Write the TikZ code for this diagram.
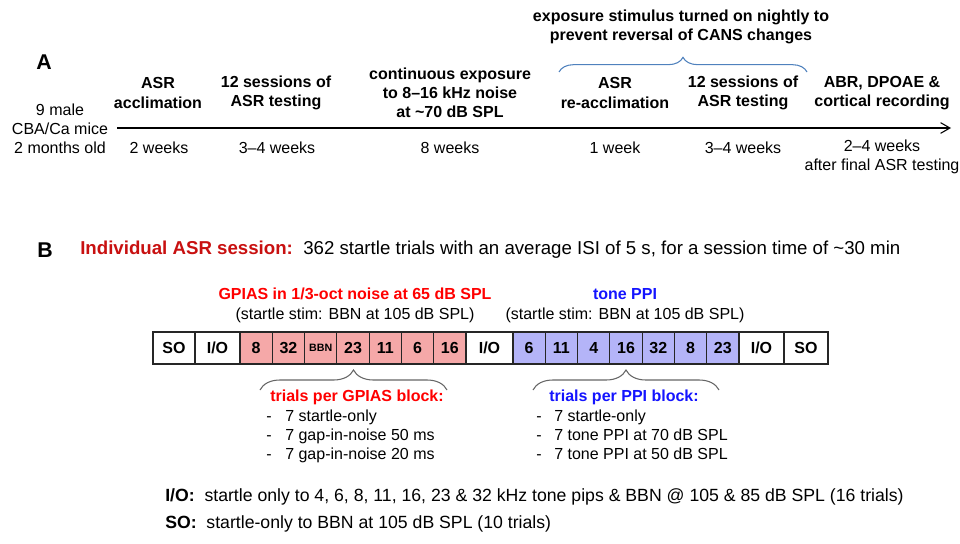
\documentclass[tikz,border=0pt]{standalone}
\usepackage{fontspec}
\setmainfont{Liberation Sans}
\usetikzlibrary{arrows.meta,decorations.pathreplacing}
\definecolor{gred}{RGB}{255,0,0}
\definecolor{dred}{RGB}{200,16,16}
\definecolor{gblue}{RGB}{20,20,255}
\definecolor{pinkc}{RGB}{245,168,168}
\definecolor{bluec}{RGB}{180,180,248}
\definecolor{bracec}{RGB}{79,129,189}
\tikzset{
  lbl/.style={align=center, inner sep=0pt, font=\bfseries\fontsize{12}{14.3}\selectfont},
  txt/.style={align=center, inner sep=0pt, font=\fontsize{12}{14.3}\selectfont},
  panel/.style={inner sep=0pt, font=\bfseries\fontsize{16}{18}\selectfont},
  cell/.style={draw=black!85, line width=0.9pt, minimum height=24pt, inner sep=0pt, outer sep=0pt, anchor=west, font=\bfseries\fontsize{12}{14}\selectfont},
  brc/.style={decorate, decoration={brace, amplitude=15pt}, draw=black!60, line width=0.8pt},
  brtop/.style={decorate, decoration={brace, amplitude=11pt}, draw=bracec, line width=0.8pt},
  item/.style={anchor=base west, inner sep=0pt, font=\fontsize{12}{14}\selectfont},
  note/.style={anchor=base west, inner sep=0pt, font=\fontsize{13.25}{15}\selectfont}
}
\begin{document}
\begin{tikzpicture}[x=0.75pt, y=-0.75pt]
\useasboundingbox (0,0) rectangle (960,543);
% ---------- Panel A ----------
\node[panel] (A) at (44,62) {A};
\node[txt] (mice) at (60,128.5) {9 male\\CBA/Ca mice\\2 months old};
\coordinate (tl0) at (117,128);
\coordinate (tl1) at (951,128);
\draw[-{Straight Barb[length=7pt,width=8pt]}, line width=0.8pt] (tl0) -- (tl1);
\node[lbl] (acc) at (158,93) {ASR\\acclimation};
\node[lbl] (ses1) at (276,93) {12 sessions of\\ASR testing};
\node[lbl] (exp) at (450,92.5) {continuous exposure\\to 8–16 kHz noise\\at \textasciitilde70 dB SPL};
\node[lbl] (reacc) at (615,93) {ASR\\re-acclimation};
\node[lbl] (ses2) at (743,93) {12 sessions of\\ASR testing};
\node[lbl] (abr) at (882,93) {ABR, DPOAE \&\\cortical recording};
\node[txt] (w1) at (159,148) {2 weeks};
\node[txt] (w2) at (277,148) {3–4 weeks};
\node[txt] (w3) at (450,148) {8 weeks};
\node[txt] (w4) at (615,148) {1 week};
\node[txt] (w5) at (743,148) {3–4 weeks};
\node[txt] (w6) at (882,157) {2–4 weeks\\after final ASR testing};
\coordinate (bt0) at (559,72);
\coordinate (bt1) at (807,72);
\draw[brtop] (bt0) -- (bt1);
\node[lbl] (night) at (681,27) {exposure stimulus turned on nightly to\\prevent reversal of CANS changes};
% ---------- Panel B ----------
\node[panel] (B) at (45,250) {B};
\node[anchor=west, inner sep=0pt, font=\fontsize{14}{16}\selectfont] (sess) at (80,250) {\textcolor{dred}{\bfseries Individual ASR session:}\ \ 362 startle trials with an average ISI of 5 s, for a session time of \textasciitilde30 min};
\node[lbl, text=gred] (gp) at (355,294) {GPIAS in 1/3-oct noise at 65 dB SPL};
\node[txt] (gps) at (355,315) {(startle stim: BBN at 105 dB SPL)};
\node[lbl, text=gblue] (tp) at (625,294) {tone PPI};
\node[txt] (tps) at (625,315) {(startle stim: BBN at 105 dB SPL)};
% cells
\node[cell, minimum width=31.5pt] (so1) at (153,348) {SO};
\node[cell, minimum width=33.75pt] (io1) at (195,348) {I/O};
\foreach \lab [count=\i] in {8,32,{\fontsize{8}{9}\selectfont BBN},23,11,6,16}
  \node[cell, fill=pinkc, minimum width=24.214pt] (g\i) at ({240+(\i-1)*32.286},348) {\lab};
\node[cell, minimum width=35.25pt] (io2) at (466,348) {I/O};
\foreach \lab [count=\i] in {6,11,4,16,32,8,23}
  \node[cell, fill=bluec, minimum width=24.214pt] (p\i) at ({513+(\i-1)*32.286},348) {\lab};
\node[cell, minimum width=33.75pt] (io3) at (739,348) {I/O};
\node[cell, minimum width=33pt] (so2) at (784,348) {SO};
% braces
\coordinate (gb0) at (260,390);
\coordinate (gb1) at (447,390);
\draw[brc] (gb0) -- (gb1);
\coordinate (pb0) at (533,390);
\coordinate (pb1) at (719,390);
\draw[brc] (pb0) -- (pb1);
\node[lbl, text=gred] (gt) at (357,397) {trials per GPIAS block:};
\node[lbl, text=gblue] (pt) at (624,397) {trials per PPI block:};
\foreach \t [count=\i] in {7 startle-only, 7 gap-in-noise 50 ms, 7 gap-in-noise 20 ms} {
  \node[item] (gd\i) at (266,{402+\i*19}) {-};
  \node[item] (gi\i) at (285,{402+\i*19}) {\t};
}
\foreach \t [count=\i] in {7 startle-only, 7 tone PPI at 70 dB SPL, 7 tone PPI at 50 dB SPL} {
  \node[item] (pd\i) at (536,{402+\i*19}) {-};
  \node[item] (pi\i) at (554,{402+\i*19}) {\t};
}
\node[note] (io) at (165,501) {\textbf{I/O:}\ \ startle only to 4, 6, 8, 11, 16, 23 \& 32 kHz tone pips \& BBN @ 105 \& 85 dB SPL (16 trials)};
\node[note] (so) at (165,528) {\textbf{SO:}\ \ startle-only to BBN at 105 dB SPL (10 trials)};
\end{tikzpicture}
\end{document}
